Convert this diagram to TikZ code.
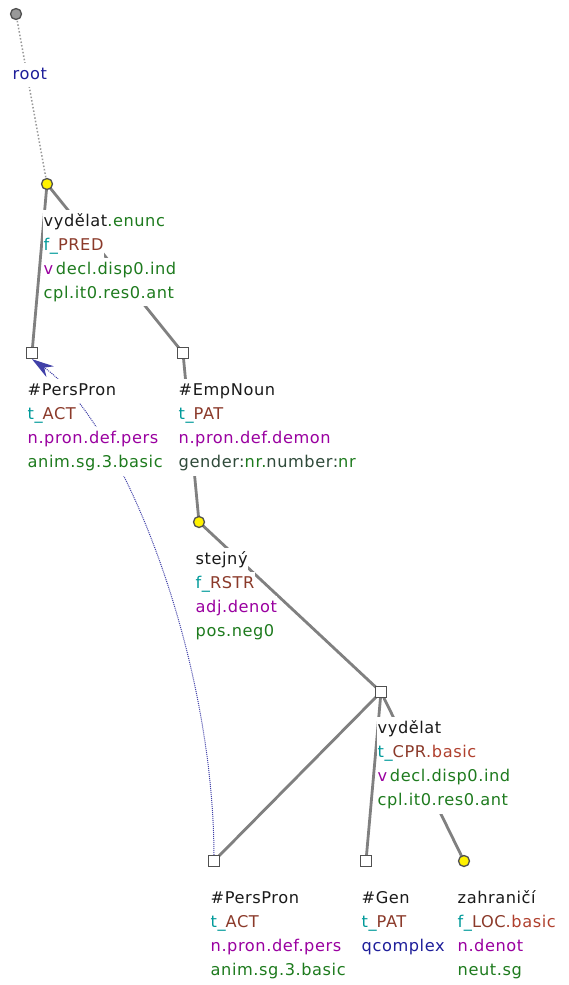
\documentclass[tikz,border=0pt]{standalone}
\usepackage{fontspec}
\newfontfamily\lblfamily[LetterSpace=3.5]{DejaVu Sans}
\usetikzlibrary{arrows.meta}
\definecolor{cblack}{HTML}{1A1A1A}
\definecolor{cteal}{HTML}{009A9A}
\definecolor{cbrown}{HTML}{8B3A2A}
\definecolor{cred}{HTML}{B0402E}
\definecolor{cpurple}{HTML}{9A00A0}
\definecolor{cgreen}{HTML}{1E7B1E}
\definecolor{cblue}{HTML}{1E1E9A}
\definecolor{cdark}{HTML}{2F4A3A}
\definecolor{cedge}{HTML}{808080}
\definecolor{cborder}{HTML}{505050}
\definecolor{ccoref}{HTML}{4040A8}
\pgfdeclarelayer{bg}
\pgfdeclarelayer{mid}
\pgfsetlayers{bg,mid,main}
\tikzset{
  lbl/.style={anchor=base west, fill=white, inner xsep=0.5pt, inner ysep=3.15pt,
    text height=13pt, text depth=5pt, text=cblack,
    font=\lblfamily\fontsize{16.2}{18}\selectfont},
  sqnode/.style={rectangle, draw=cborder, fill=white, line width=1.3pt, minimum size=11pt, inner sep=0pt},
  ynode/.style={circle, draw=cborder, fill=yellow, line width=1.3pt, minimum size=11pt, inner sep=0pt},
  rootnode/.style={circle, draw=cborder, fill=black!40, line width=1.3pt, minimum size=11pt, inner sep=0pt},
  edge/.style={draw=cedge, line width=2.8pt},
  rootedge/.style={draw=cedge!80, line width=1.5pt, dotted},
  coref/.style={draw=ccoref, line width=1pt, densely dotted, -{Stealth[length=22pt,width=13pt,fill=ccoref]}},
}
\newcommand{\fn}[1]{\textcolor{cteal}{#1}}
\newcommand{\fb}[1]{\textcolor{cbrown}{#1}}
\newcommand{\fr}[1]{\textcolor{cred}{#1}}
\newcommand{\fp}[1]{\textcolor{cpurple}{#1}}
\newcommand{\fg}[1]{\textcolor{cgreen}{#1}}
\newcommand{\fbl}[1]{\textcolor{cblue}{#1}}
\newcommand{\fd}[1]{\textcolor{cdark}{#1}}
\begin{document}
\begin{tikzpicture}[x=1pt,y=-1pt]
\begin{pgfonlayer}{bg}
\fill[white] (0,0) rectangle (568,985);
\end{pgfonlayer}
\useasboundingbox (0,0) rectangle (568,985);
% tree nodes
\node[rootnode] (n1) at (16,14) {};
\node[ynode] (n2) at (47,184) {};
\node[sqnode] (n3) at (32,353) {};
\node[sqnode] (n4) at (183,353) {};
\node[ynode] (n5) at (199,522) {};
\node[sqnode] (n6) at (381,692) {};
\node[sqnode] (n7) at (214,861) {};
\node[sqnode] (n8) at (366,861) {};
\node[ynode] (n9) at (464,861) {};
% edges
\begin{pgfonlayer}{bg}
\draw[rootedge] (n1.center) -- (n2.center);
\draw[edge] (n2.center) -- (n3.center);
\draw[edge] (n2.center) -- (n4.center);
\draw[edge] (n4.center) -- (n5.center);
\draw[edge] (n5.center) -- (n6.center);
\draw[edge] (n6.center) -- (n7.center);
\draw[edge] (n6.center) -- (n8.center);
\draw[edge] (n6.center) -- (n9.center);
\draw[coref] (n7.north) .. controls (213,650) and (120,420) .. (n3.south);
\end{pgfonlayer}
% labels
\begin{pgfonlayer}{mid}
\node[lbl] (l1) at (12,79) {\fbl{root}};
\node[lbl] (l2a) at (43,226) {vydělat\fg{.enunc}};
\node[lbl] (l2b) at (43,250) {\fn{f\_}\fb{PRED}\hspace{6pt}};
\node[lbl] (l2c) at (43,274) {\fp{v}\,\fg{decl.disp0.ind}};
\node[lbl] (l2d) at (43,298) {\fg{cpl.it0.res0.ant}};
\node[lbl] (l3a) at (27,395) {\#PersPron};
\node[lbl] (l3b) at (27,419.3) {\fn{t\_}\fb{ACT}};
\node[lbl] (l3c) at (27,443.6) {\fp{n.pron.def.pers}};
\node[lbl] (l3d) at (27,467.9) {\fg{anim.sg.3.basic}};
\node[lbl] (l4a) at (178,395) {\#EmpNoun};
\node[lbl] (l4b) at (178,419.3) {\fn{t\_}\fb{PAT}};
\node[lbl] (l4c) at (178,443.6) {\fp{n.pron.def.demon}};
\node[lbl] (l4d) at (178,467.9) {\fd{gender:}\fg{nr.}\fd{number:}\fg{nr}};
\node[lbl] (l5a) at (195,564) {stejný};
\node[lbl] (l5b) at (195,588.3) {\fn{f\_}\fb{RSTR}};
\node[lbl] (l5c) at (195,612.6) {\fp{adj.denot}};
\node[lbl] (l5d) at (195,636.9) {\fg{pos.neg0}};
\node[lbl] (l6a) at (377,733) {vydělat};
\node[lbl] (l6b) at (377,757.3) {\fn{t\_}\fb{CPR}\fr{.basic}};
\node[lbl] (l6c) at (377,781.6) {\fp{v}\,\fg{decl.disp0.ind}};
\node[lbl] (l6d) at (377,805.9) {\fg{cpl.it0.res0.ant}};
\node[lbl] (l7a) at (210,903) {\#PersPron};
\node[lbl] (l7b) at (210,927.3) {\fn{t\_}\fb{ACT}};
\node[lbl] (l7c) at (210,951.6) {\fp{n.pron.def.pers}};
\node[lbl] (l7d) at (210,975.9) {\fg{anim.sg.3.basic}};
\node[lbl] (l8a) at (361,903) {\#Gen};
\node[lbl] (l8b) at (361,927.3) {\fn{t\_}\fb{PAT}};
\node[lbl] (l8c) at (361,951.6) {\fbl{qcomplex}};
\node[lbl] (l9a) at (457,903) {zahraničí};
\node[lbl] (l9b) at (457,927.3) {\fn{f\_}\fb{LOC}\fr{.basic}};
\node[lbl] (l9c) at (457,951.6) {\fp{n.denot}};
\node[lbl] (l9d) at (457,975.9) {\fg{neut.sg}};
\end{pgfonlayer}
\end{tikzpicture}
\end{document}
